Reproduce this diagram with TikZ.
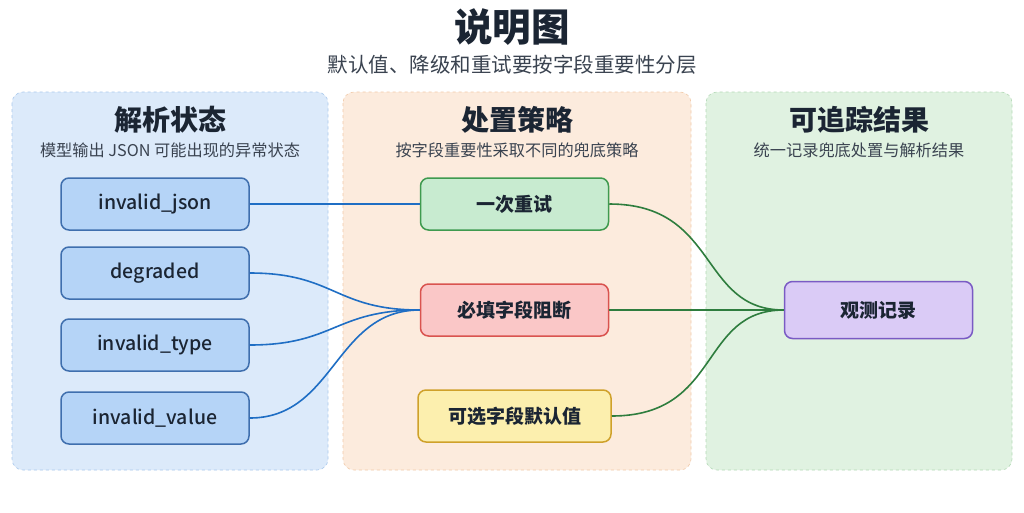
\documentclass[tikz,border=0pt]{standalone}
\usepackage{fontspec}
\setmainfont{Noto Sans CJK SC}
\newfontfamily\medfont{Noto Sans CJK SC Medium}
\definecolor{ink}{HTML}{1B2533}
\definecolor{subink}{HTML}{3A4350}
\definecolor{bluefill}{HTML}{DCEAFA}
\definecolor{blueline}{HTML}{A9C8EC}
\definecolor{orangefill}{HTML}{FCEBDD}
\definecolor{orangeline}{HTML}{F1C9A8}
\definecolor{greenfill}{HTML}{E0F2E1}
\definecolor{greenline}{HTML}{B3D9B6}
\definecolor{nodeblue}{HTML}{B5D4F7}
\definecolor{nodeblueb}{HTML}{3F6FAE}
\definecolor{nodegreen}{HTML}{C8EBD0}
\definecolor{nodegreenb}{HTML}{3F9A4F}
\definecolor{nodered}{HTML}{FAC7C7}
\definecolor{noderedb}{HTML}{D9534F}
\definecolor{nodeyellow}{HTML}{FCEFAE}
\definecolor{nodeyellowb}{HTML}{CFA12A}
\definecolor{nodepurple}{HTML}{DACBF6}
\definecolor{nodepurpleb}{HTML}{7A5BC4}
\definecolor{linkblue}{HTML}{1F6EC4}
\definecolor{linkgreen}{HTML}{2E7D3E}
\begin{document}
\begin{tikzpicture}[x=1pt,y=-1pt,
  panel/.style={rounded corners=11pt, dashed, line width=0.6pt},
  head/.style={font=\fontsize{28}{30}\selectfont\bfseries, text=ink},
  note/.style={font=\fontsize{16.2}{18}\selectfont, text=subink},
  box/.style={rounded corners=8pt, line width=1.5pt, minimum width=188pt,
    minimum height=52pt, font=\fontsize{19}{21}\selectfont\bfseries, text=ink},
  bluebox/.style={box, fill=nodeblue, draw=nodeblueb, font=\fontsize{19.5}{21}\medfont},
  link/.style={line width=1.6pt}]
\useasboundingbox (0,0) rectangle (1024,512);
\fill[white] (0,0) rectangle (1024,512);
\node[font=\fontsize{38.5}{41}\selectfont\bfseries, text=ink] (title) at (512,27) {说明图};
\node[font=\fontsize{20.5}{22}\selectfont, text=subink] (subtitle) at (512,65) {默认值、降级和重试要按字段重要性分层};
\draw[panel, fill=bluefill, draw=blueline] (12,92) rectangle (328,470);
\draw[panel, fill=orangefill, draw=orangeline] (343,92) rectangle (691,470);
\draw[panel, fill=greenfill, draw=greenline] (706,92) rectangle (1012,470);
\node[head] (h1) at (170,120) {解析状态};
\node[note] (n1) at (170,150) {模型输出 JSON 可能出现的异常状态};
\node[head] (h2) at (517,120) {处置策略};
\node[note] (n2) at (517,150) {按字段重要性采取不同的兜底策略};
\node[head] (h3) at (859,120) {可追踪结果};
\node[note] (n3) at (859,150) {统一记录兜底处置与解析结果};
\node[bluebox] (json) at (155,204) {invalid\_json};
\node[bluebox] (deg) at (155,273) {degraded};
\node[bluebox] (type) at (155,345) {invalid\_type};
\node[bluebox] (value) at (155,418) {invalid\_value};
\node[box, fill=nodegreen, draw=nodegreenb] (retry) at (514.5,204) {一次重试};
\node[box, fill=nodered, draw=noderedb] (block) at (514.5,310) {必填字段阻断};
\node[box, fill=nodeyellow, draw=nodeyellowb, minimum width=193pt] (dflt) at (514.5,416) {可选字段默认值};
\node[box, fill=nodepurple, draw=nodepurpleb, minimum height=57pt] (obs) at (878.5,310) {观测记录};
\draw[link, linkblue] (json) -- (retry);
\foreach \s in {deg,type,value}
  \draw[link, linkblue] (\s.east) .. controls +(85,0) and +(-85,0) .. (block.west);
\foreach \s in {retry,dflt}
  \draw[link, linkgreen] (\s.east) .. controls +(110,0) and +(-85,0) .. (obs.west);
\draw[link, linkgreen] (block) -- (obs);
\end{tikzpicture}
\end{document}
